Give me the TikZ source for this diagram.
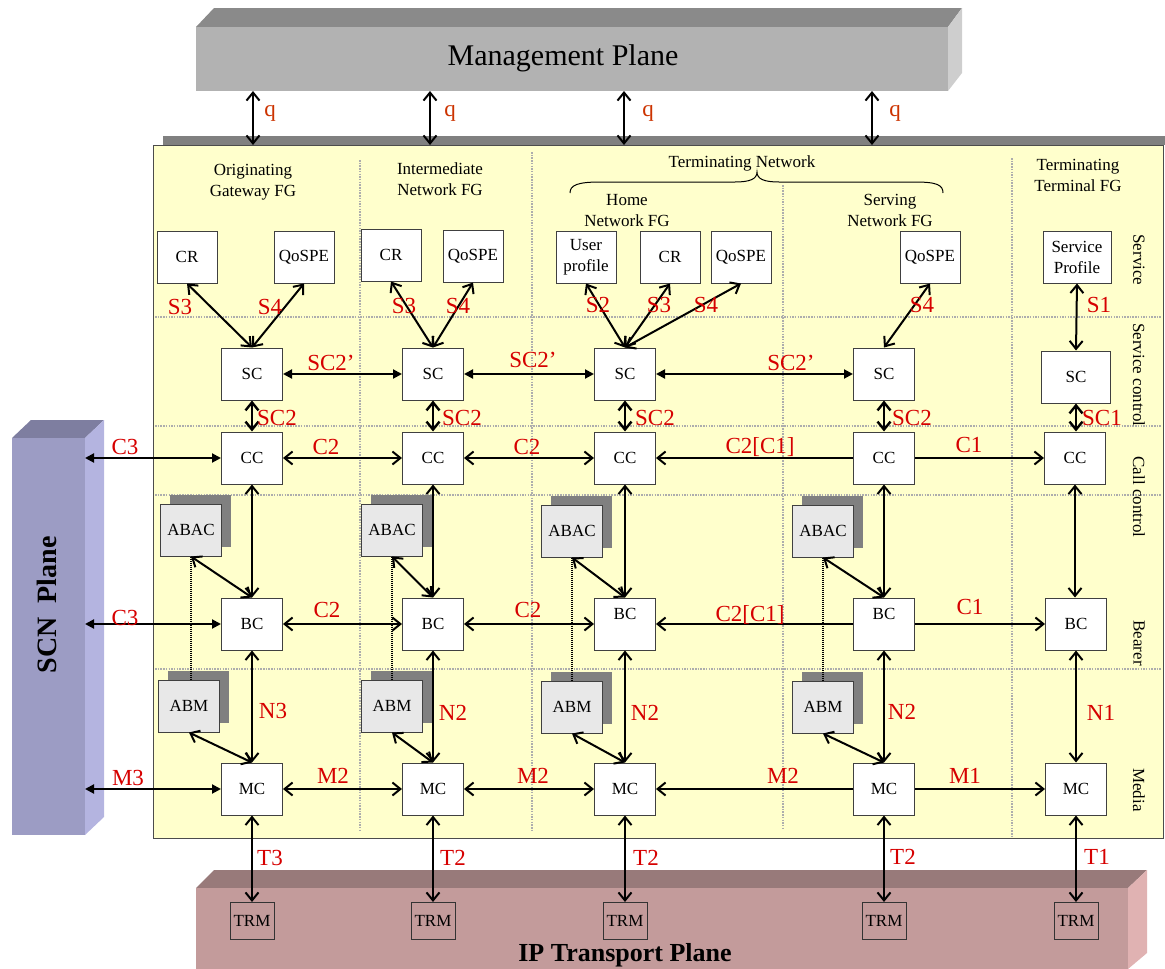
\documentclass[tikz,border=0pt]{standalone}
\usepackage{fontspec}
\setmainfont{Liberation Serif}
\usetikzlibrary{arrows.meta,shadows}

\definecolor{panel}{RGB}{255,255,204}
\definecolor{lab}{RGB}{214,0,0}
\definecolor{qlab}{RGB}{204,51,0}
\definecolor{mpFront}{RGB}{178,178,178}
\definecolor{mpTop}{RGB}{138,138,138}
\definecolor{mpSide}{RGB}{206,206,206}
\definecolor{scnFront}{RGB}{156,156,196}
\definecolor{scnTop}{RGB}{126,126,160}
\definecolor{scnSide}{RGB}{180,180,224}
\definecolor{ipFront}{RGB}{195,155,155}
\definecolor{ipTop}{RGB}{152,122,122}
\definecolor{ipSide}{RGB}{224,178,178}

\tikzset{
  box/.style={draw=black!75, line width=1pt, fill=white, minimum width=61pt,
    minimum height=52pt, inner sep=1pt, align=center,
    font=\fontsize{17}{19}\selectfont},
  abox/.style={box, fill=black!9,
    general shadow={fill=black!50, shadow xshift=9pt, shadow yshift=9pt}},
  trm/.style={draw=black!80, line width=1pt, minimum width=44pt,
    minimum height=37pt, inner sep=0pt, font=\fontsize{17}{19}\selectfont},
  lbl/.style={text=lab, inner sep=0pt, font=\fontsize{23}{23}\selectfont},
  qlbl/.style={text=qlab, inner sep=0pt, font=\fontsize{23}{23}\selectfont},
  hdr/.style={align=center, inner sep=0pt, font=\fontsize{17}{21}\selectfont},
  rowlbl/.style={rotate=-90, inner sep=0pt, font=\fontsize{17}{17}\selectfont},
  sep/.style={draw=black!32, line width=1.3pt, dash pattern=on 1.5pt off 1.2pt},
  barb/.tip={Straight Barb[length=8pt,width=13pt]},
  tri/.tip={Triangle[length=9pt,width=9pt]},
  dbl/.style={line width=2pt, barb-barb},
  one/.style={line width=2pt, -barb},
  fil/.style={line width=2pt, tri-tri},
  dotl/.style={line width=1.2pt, dash pattern=on 1pt off 1pt},
}

\begin{document}
\begin{tikzpicture}[x=1pt,y=-1pt]
\useasboundingbox (0,0) rectangle (1165,969);

% ---------- management plane (3D slab) ----------
\fill[mpTop] (196,27) -- (214,8) -- (962,8) -- (948,27) -- cycle;
\fill[mpSide] (948,27) -- (962,8) -- (962,73) -- (948,91) -- cycle;
\fill[mpFront] (196,27) rectangle (948,91);
\node[inner sep=0pt, font=\fontsize{30}{30}\selectfont] (mp) at (563,58) {Management Plane};

% ---------- SCN plane (3D column) ----------
\fill[scnTop] (12,438) -- (31,420) -- (104,420) -- (85,438) -- cycle;
\fill[scnSide] (85,438) -- (104,420) -- (104,817) -- (85,835) -- cycle;
\fill[scnFront] (12,438) rectangle (85,835);
\node[rotate=90, inner sep=0pt, font=\bfseries\fontsize{28}{28}\selectfont] (scn) at (47,605) {SCN\ \ Plane};

% ---------- IP transport plane (3D slab) ----------
\fill[ipTop] (196,888) -- (214,870) -- (1147,870) -- (1128,888) -- cycle;
\fill[ipSide] (1128,888) -- (1147,870) -- (1147,953) -- (1128,969) -- cycle;
\fill[ipFront] (196,888) rectangle (1128,969);
\node[inner sep=0pt, font=\bfseries\fontsize{26}{26}\selectfont] (ip) at (625,955) {IP Transport Plane};

% ---------- functional area ----------
\fill[black!50] (163,136) rectangle (1165,145);
\draw[black!70, line width=1pt, fill=panel] (153,145) rectangle (1163,838);

% row and column separators
\foreach \y in {317,426,495,669} \draw[sep] (155,\y) -- (1161,\y);
\draw[sep] (360,160) -- (360,830);
\draw[sep] (532,152) -- (532,830);
\draw[sep] (783,185) -- (783,830);
\draw[sep] (1012,158) -- (1012,836);

% column headings
\node[hdr] (hOrig) at (253,182) {Originating\\Gateway FG};
\node[hdr] (hInter) at (440,179) {Intermediate\\Network FG};
\node[hdr] (hTerm) at (742,163) {Terminating Network};
\node[hdr] (hHome) at (627,211) {Home\\Network FG};
\node[hdr] (hServ) at (890,210) {Serving\\Network FG};
\node[hdr] (hTT) at (1078,175) {Terminating\\Terminal FG};
\draw[line width=1pt] (570,193) .. controls (570,185) and (578,182) .. (600,182)
  -- (735,182) .. controls (750,182) and (757,179) .. (757,172)
  .. controls (757,179) and (764,182) .. (779,182) -- (915,182)
  .. controls (937,182) and (943,185) .. (943,193);

% row labels
\node[rowlbl] at (1139,260) {Service};
\node[rowlbl] at (1139,375) {Service control};
\node[rowlbl] at (1139,497) {Call control};
\node[rowlbl] at (1139,643) {Bearer};
\node[rowlbl] at (1139,790) {Media};

% ---------- service row ----------
\node[box, minimum width=60pt] (oCR) at (187,257) {CR};
\node[box, minimum width=60pt] (oQ) at (304,257) {QoSPE};
\node[box, minimum width=60pt] (iCR) at (391,255) {CR};
\node[box, minimum width=60pt] (iQ) at (473,256) {QoSPE};
\node[box, minimum width=60pt, font=\fontsize{17}{21}\selectfont] (hUP) at (586,257) {User\\profile};
\node[box, minimum width=60pt] (hCR) at (670,257) {CR};
\node[box, minimum width=60pt] (hQ) at (741,257) {QoSPE};
\node[box, minimum width=60pt] (sQ) at (930,257) {QoSPE};
\node[box, minimum width=68pt, font=\fontsize{17}{21}\selectfont] (tSP) at (1077,257) {Service\\Profile};

% ---------- control / bearer / media boxes ----------
\node[box] (oSC) at (252,374) {SC};
\node[box] (iSC) at (433,374) {SC};
\node[box] (hSC) at (625,374) {SC};
\node[box] (sSC) at (884,374) {SC};
\node[box, minimum width=69pt] (tSC) at (1076,377) {SC};

\node[box] (oCC) at (252,458) {CC};
\node[box] (iCC) at (433,458) {CC};
\node[box] (hCC) at (625,458) {CC};
\node[box] (sCC) at (884,458) {CC};
\node[box] (tCC) at (1075,458) {CC};

\node[box] (oBC) at (252,624) {BC};
\node[box] (iBC) at (433,624) {BC};
\node[box] (hBC) at (625,624) {\raisebox{5pt}[0pt][0pt]{BC}};
\node[box] (sBC) at (884,624) {\raisebox{5pt}[0pt][0pt]{BC}};
\node[box] (tBC) at (1076,624) {BC};

\node[box] (oMC) at (252,789) {MC};
\node[box] (iMC) at (433,789) {MC};
\node[box] (hMC) at (625,789) {MC};
\node[box] (sMC) at (884,789) {MC};
\node[box] (tMC) at (1076,789) {MC};

\node[abox] (oABAC) at (191,530) {ABAC};
\node[abox] (iABAC) at (392,530) {ABAC};
\node[abox] (hABAC) at (572,531) {ABAC};
\node[abox] (sABAC) at (823,531) {ABAC};
\node[abox] (oABM) at (189,706) {ABM};
\node[abox] (iABM) at (392,706) {ABM};
\node[abox] (hABM) at (572,707) {ABM};
\node[abox] (sABM) at (823,707) {ABM};

\node[trm] (oT) at (252,921) {TRM};
\node[trm] (iT) at (433,921) {TRM};
\node[trm] (hT) at (625,921) {TRM};
\node[trm] (sT) at (884,921) {TRM};
\node[trm] (tT) at (1076,921) {TRM};

% ---------- management interfaces q ----------
\foreach \x/\n in {253/a,430/b,624/c,872/d} {
  \coordinate (mpT\n) at (\x,91);
  \coordinate (mpB\n) at (\x,145);
  \draw[dbl] (mpT\n) -- (mpB\n);
}
\node[qlbl] at (270,113) {q};
\node[qlbl] at (450,113) {q};
\node[qlbl] at (648,113) {q};
\node[qlbl] at (895,113) {q};

% ---------- service interfaces ----------
\draw[dbl] (oSC.north) -- (oCR.south);
\draw[dbl] (oSC.north) -- (oQ.south);
\draw[dbl] (iSC.north) -- (iCR.south);
\draw[dbl] (iSC.north) -- (iQ.south);
\draw[dbl] (hSC.north) -- (hUP.south);
\draw[dbl] (hSC.north) -- (hCR.south);
\draw[dbl] (hSC.north) -- (hQ.south);
\draw[dbl] (sSC.north) -- (sQ.south);
\draw[dbl] (tSC.north) -- (tSP.south);
\node[lbl] at (180,307) {S3};
\node[lbl] at (270,307) {S4};
\node[lbl] at (404,306) {S3};
\node[lbl] at (458,306) {S4};
\node[lbl] at (598,305) {S2};
\node[lbl] at (659,305) {S3};
\node[lbl] at (706,305) {S4};
\node[lbl] at (922,305) {S4};
\node[lbl] at (1099,305) {S1};

% ---------- service control ----------
\draw[fil] (oSC) -- (iSC);
\draw[fil] (iSC) -- (hSC);
\draw[fil] (hSC) -- (sSC);
\node[lbl] at (331,363) {SC2’};
\node[lbl] at (533,360) {SC2’};
\node[lbl] at (791,363) {SC2’};

\draw[dbl, line width=2.4pt] (oSC) -- (oCC);
\draw[dbl, line width=2.4pt] (iSC) -- (iCC);
\draw[dbl, line width=2.4pt] (hSC) -- (hCC);
\draw[dbl, line width=2.4pt] (sSC) -- (sCC);
\draw[dbl, line width=2.4pt] (tSC.south) -- (tSC.south |- tCC.north);
\node[lbl] at (277,418) {SC2};
\node[lbl] at (462,418) {SC2};
\node[lbl] at (655,418) {SC2};
\node[lbl] at (912,418) {SC2};
\node[lbl] at (1102,418) {SC1};

% ---------- call control ----------
\coordinate (scnC) at (85,458);
\coordinate (scnB) at (85,624);
\coordinate (scnM) at (85,789);
\draw[fil] (scnC) -- (oCC);
\draw[dbl] (oCC) -- (iCC);
\draw[dbl] (iCC) -- (hCC);
\draw[one] (sCC) -- (hCC);
\draw[one] (sCC) -- (tCC);
\node[lbl] at (125,447) {C3};
\node[lbl] at (326,447) {C2};
\node[lbl] at (527,447) {C2};
\node[lbl] at (760,447) {C2[C1]};
\node[lbl] at (969,445) {C1};

% call control to bearer control
\draw[dbl] (oCC) -- (oBC);
\draw[dbl] (iCC) -- (iBC);
\draw[dbl] (hCC) -- (hBC);
\draw[dbl] (sCC) -- (sBC);
\draw[dbl] (tCC.south) -- (tCC.south |- tBC.north);

% ABAC / ABM links
\foreach \c in {o,i,h,s} {
  \draw[dbl] (\c ABAC.south) -- (\c BC.north);
  \draw[dbl] (\c ABM.south) -- (\c MC.north);
  \draw[dotl] (\c ABAC.south) -- (\c ABAC.south |- \c ABM.north);
}

% ---------- bearer ----------
\draw[fil] (scnB) -- (oBC);
\draw[dbl] (oBC) -- (iBC);
\draw[dbl] (iBC) -- (hBC);
\draw[one] (sBC) -- (hBC);
\draw[one] (sBC) -- (tBC);
\node[lbl] at (125,618) {C3};
\node[lbl] at (327,610) {C2};
\node[lbl] at (528,610) {C2};
\node[lbl] at (750,615) {C2[C1]};
\node[lbl] at (970,607) {C1};

\draw[dbl] (oBC) -- (oMC);
\draw[dbl] (iBC) -- (iMC);
\draw[dbl] (hBC) -- (hMC);
\draw[dbl] (sBC) -- (sMC);
\draw[dbl] (tBC) -- (tMC);
\node[lbl] at (273,711) {N3};
\node[lbl] at (453,713) {N2};
\node[lbl] at (645,713) {N2};
\node[lbl] at (902,712) {N2};
\node[lbl] at (1101,713) {N1};

% ---------- media ----------
\draw[fil] (scnM) -- (oMC);
\draw[dbl] (oMC) -- (iMC);
\draw[dbl] (iMC) -- (hMC);
\draw[one] (sMC) -- (hMC);
\draw[one] (sMC) -- (tMC);
\node[lbl] at (128,778) {M3};
\node[lbl] at (333,776) {M2};
\node[lbl] at (533,776) {M2};
\node[lbl] at (783,776) {M2};
\node[lbl] at (965,776) {M1};

% ---------- transport ----------
\draw[dbl] (oMC) -- (oT);
\draw[dbl] (iMC) -- (iT);
\draw[dbl] (hMC) -- (hT);
\draw[dbl] (sMC) -- (sT);
\draw[dbl] (tMC) -- (tT);
\node[lbl] at (270,858) {T3};
\node[lbl] at (453,858) {T2};
\node[lbl] at (646,858) {T2};
\node[lbl] at (903,857) {T2};
\node[lbl] at (1097,857) {T1};

\end{tikzpicture}
\end{document}
